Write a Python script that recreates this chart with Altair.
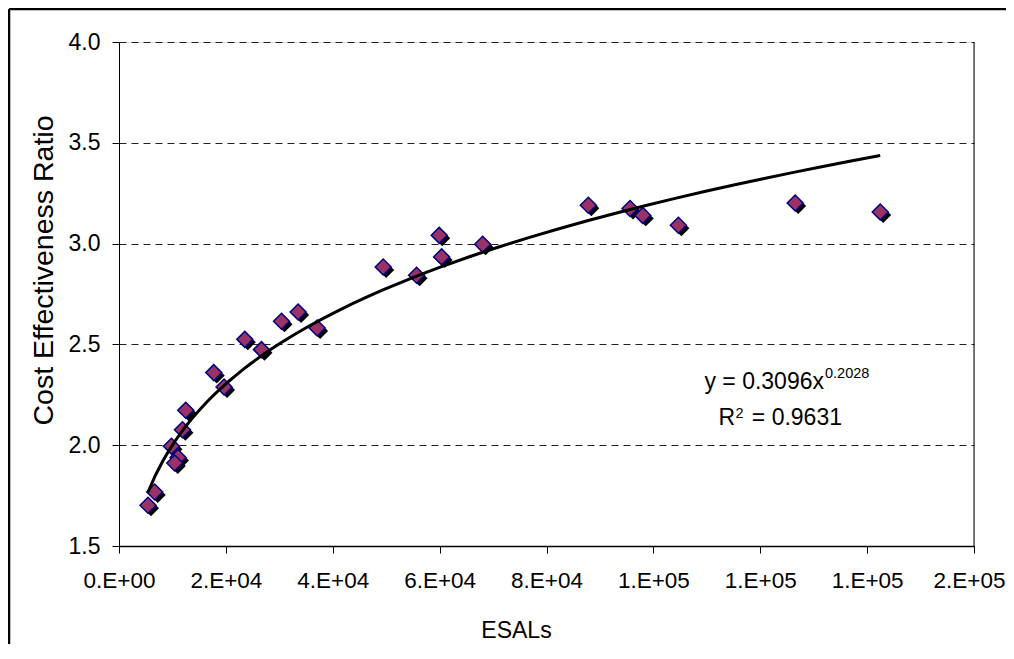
import altair as alt
import pandas as pd

# ---- data ----
esals = [5431, 6685, 9813, 11049, 10431, 11873, 12490, 17734, 19662, 23540,
         26666, 30412, 33520, 37078, 49437, 55692, 59924, 60373, 68051, 87826,
         95634, 98013, 104680, 126534, 142450]
ratio = [1.702, 1.768, 1.995, 1.939, 1.912, 2.077, 2.173, 2.360, 2.289, 2.525,
         2.474, 2.615, 2.661, 2.581, 2.884, 2.843, 3.041, 2.934, 2.997, 3.190,
         3.174, 3.140, 3.091, 3.201, 3.157]

x_ticks = [0, 20000, 40000, 60000, 80000, 100000, 120000, 140000, 160000]
x_tick_labels = ["0.E+00", "2.E+04", "4.E+04", "6.E+04", "8.E+04",
                 "1.E+05", "1.E+05", "1.E+05", "2.E+05"]
y_ticks = [1.5, 2.0, 2.5, 3.0, 3.5, 4.0]

eq_main = "y = 0.3096x"
eq_exp = "0.2028"
r_main = "R"
r_exp = "2"
r_val = "= 0.9631"

FONT = "Liberation Sans"

df = pd.DataFrame({"ESALs": esals, "CER": ratio})
one = pd.DataFrame({"k": [0]})

label_expr = "[{}][indexof([{}], datum.value)]".format(
    ",".join("'" + s + "'" for s in x_tick_labels),
    ",".join(str(v) for v in x_ticks),
)

xenc = alt.X(
    "ESALs:Q",
    scale=alt.Scale(domain=[0, 160000], nice=False, zero=False),
    axis=alt.Axis(
        values=x_ticks, labelExpr=label_expr, title="ESALs", grid=False,
        domainColor="black", domainWidth=1.5, tickColor="black", tickWidth=1,
        tickSize=7, labelPadding=16, labelFont=FONT, labelFontSize=22.5,
        labelColor="black", labelFlush=False, labelOverlap=False,
        labelOffset={"condition": {"test": "datum.value >= 160000", "value": -5},
                     "value": 0},
        titleFont=FONT, titleFontSize=23, titleFontWeight="normal",
        titleColor="black", titleX=397, titleY=91, titleAlign="center",
        titleBaseline="alphabetic",
    ),
)
yenc = alt.Y(
    "CER:Q",
    scale=alt.Scale(domain=[1.5, 4.0], nice=False, zero=False),
    axis=alt.Axis(
        values=y_ticks, format=".1f", title="Cost Effectiveness Ratio",
        grid=True, gridDash=[7, 5], gridColor="#222222", gridWidth=1,
        domainColor="black", domainWidth=1, tickColor="black", tickWidth=1,
        tickSize=7, labelPadding=12, labelFont=FONT, labelFontSize=23,
        labelColor="black", labelFlush=False, labelOverlap=False,
        titleFont=FONT, titleFontSize=28.5, titleFontWeight="normal",
        titleColor="black", titleAngle=270, titleX=-67, titleY=228,
        titleAlign="center", titleBaseline="alphabetic",
    ),
)

shadow = alt.Chart(df).mark_point(
    shape="diamond", filled=True, fill="black", size=255, opacity=1,
    xOffset=3, yOffset=3,
).encode(x=xenc, y=yenc)

points = alt.Chart(df).mark_point(
    shape="diamond", filled=True, fill="#993366", stroke="#000080",
    strokeWidth=1.5, size=255, opacity=1,
).encode(x=xenc, y=yenc)

trend = alt.Chart(df).transform_regression(
    "ESALs", "CER", method="pow"
).mark_line(color="black", strokeWidth=3).encode(x=xenc, y=yenc)

right_edge = alt.Chart(one).mark_rule(color="black", strokeWidth=1).encode(
    x=alt.value(855), y=alt.value(0), y2=alt.value(504)
)

frame_top = alt.Chart(one).mark_rule(color="black", strokeWidth=2.5).encode(
    x=alt.value(-110), x2=alt.value(900), y=alt.value(-33)
)
frame_left = alt.Chart(one).mark_rule(color="black", strokeWidth=2.5).encode(
    x=alt.value(-110), y=alt.value(-33), y2=alt.value(700)
)


def txt(s, x, y, size, align):
    return alt.Chart(one).mark_text(
        font=FONT, fontSize=size, color="black", align=align, baseline="alphabetic"
    ).encode(x=alt.value(x), y=alt.value(y), text=alt.value(s))


annot = (
    txt(eq_main, 705, 347, 23, "right")
    + txt(eq_exp, 706, 335.5, 14.5, "left")
    + txt(r_main, 616, 383, 23, "right")
    + txt(r_exp, 616.5, 375.5, 14.5, "left")
    + txt(r_val, 723, 383, 23, "right")
)

chart = alt.layer(
    shadow, points, trend, right_edge, annot, frame_top, frame_left
).properties(
    width=855, height=504,
    autosize=alt.AutoSizeParams(type="none"),
    padding={"left": 111, "top": 34, "right": 32, "bottom": 98},
).configure_view(strokeWidth=0).configure(background="white")

chart.save("out.html", embed_options={"renderer": "svg", "actions": False})
